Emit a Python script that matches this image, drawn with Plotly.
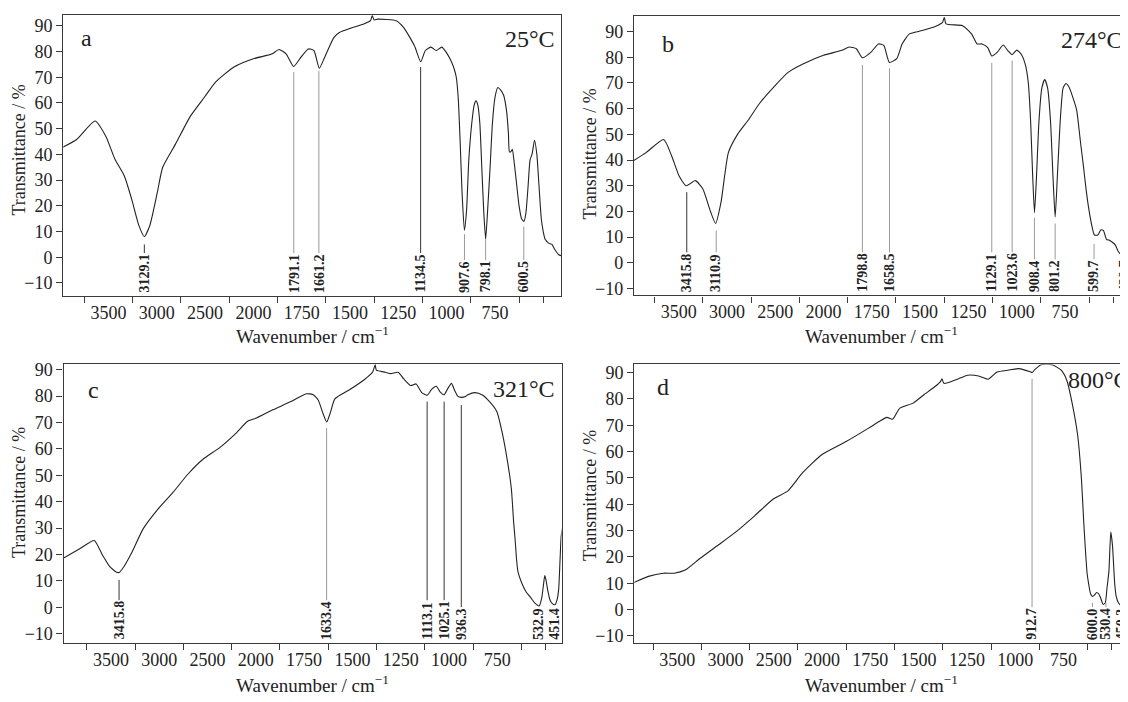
import numpy as np
import plotly.graph_objects as go

# ---------------- data ----------------
x_label_vals = [3500, 3000, 2500, 2000, 1750, 1500, 1250, 1000, 750]
x_minor_vals = [3750, 3250, 2750, 2250, 1875, 1625, 1375, 1125, 875, 625, 500]
y_tick_vals = [90, 80, 70, 60, 50, 40, 30, 20, 10, 0, -10]

a_wn = [4000, 3830, 3640, 3527, 3432, 3337, 3261, 3186, 3129, 3072, 2996, 2939, 2807, 2655,
        2504, 2390, 2201, 2000, 1905, 1867, 1830, 1792, 1754, 1716, 1687, 1659, 1631, 1583,
        1555, 1500, 1432, 1394, 1385, 1375, 1356, 1261, 1223, 1167, 1134, 1110, 1081, 1053,
        1025, 996, 975, 960, 950, 940, 930, 920, 908, 897, 885, 870, 858, 848, 838, 828, 818,
        808, 798, 788, 775, 763, 750, 735, 720, 705, 690, 680, 675, 668, 660, 652, 640, 625,
        612, 600, 590, 578, 568, 558, 545, 533, 522, 510, 500, 490, 472, 455, 440, 420, 400]
a_tr = [42.3, 45.8, 53.0, 47.0, 38.0, 31.7, 22.7, 12.4, 8.0, 12.4, 25.0, 35.0, 44.0, 54.7,
        62.4, 68.2, 74.0, 77.2, 79.0, 80.8, 79.0, 74.2, 77.8, 81.0, 80.4, 73.5, 77.8, 85.5,
        87.4, 89.0, 90.6, 92.0, 94.0, 92.3, 92.6, 92.0, 89.4, 82.3, 76.0, 80.4, 81.7, 80.4,
        81.7, 79.0, 76.0, 73.0, 70.0, 62.0, 45.0, 25.0, 10.5, 18.0, 38.0, 52.0, 59.0, 60.8, 59.0,
        52.0, 35.0, 18.0, 7.0, 18.0, 35.0, 52.0, 62.0, 66.0, 65.0, 63.0, 57.0, 48.0, 41.0,
        41.0, 42.0, 38.0, 30.0, 20.0, 15.0, 14.0, 17.0, 28.0, 38.0, 40.0, 45.5, 40.0, 28.0,
        15.0, 10.0, 7.0, 5.5, 5.0, 3.0, 1.0, 0.5]

b_wn = [4000, 3837, 3655, 3572, 3496, 3420, 3326, 3250, 3174, 3117, 3061, 2985, 2890, 2776,
        2663, 2511, 2360, 2208, 2000, 1905, 1867, 1830, 1799, 1754, 1716, 1688, 1659, 1621,
        1593, 1555, 1489, 1413, 1384, 1375, 1366, 1280, 1233, 1205, 1180, 1150, 1129, 1100,
        1070, 1045, 1024, 1000, 975, 955, 940, 928, 918, 908, 898, 885, 870, 855, 840, 825,
        812, 801, 790, 775, 760, 745, 730, 710, 690, 670, 655, 640, 627, 610, 598, 580, 565,
        551, 535, 523, 505, 490, 475, 455, 438, 425, 413]
b_tr = [39.0, 42.9, 48.0, 41.6, 33.9, 30.0, 32.0, 28.8, 20.4, 15.3, 23.6, 42.9, 50.0, 55.7,
        62.0, 68.6, 74.3, 77.5, 80.8, 82.7, 84.0, 83.3, 79.8, 82.0, 85.2, 84.6, 78.0, 79.5,
        85.2, 89.1, 90.4, 92.3, 93.6, 95.5, 93.0, 92.3, 89.0, 85.2, 85.2, 83.8, 80.5, 82.0,
        84.8, 82.5, 81.0, 82.8, 81.0, 77.0, 70.0, 55.0, 35.0, 19.5, 33.0, 55.0, 68.0, 71.3,
        68.0, 55.0, 33.0, 17.8, 33.0, 55.0, 68.0, 69.8, 68.5, 64.5, 59.5, 47.0, 37.8, 28.0,
        21.0, 14.0, 10.8, 10.8, 12.8, 12.5, 9.0, 8.9, 8.0, 7.0, 4.5, 3.0, 2.5, 3.5, 4.4]

c_wn = [4000, 3819, 3673, 3588, 3512, 3442, 3415, 3377, 3281, 3165, 3011, 2858, 2704, 2550,
        2377, 2204, 2088, 2000, 1912, 1818, 1742, 1705, 1677, 1655, 1633, 1615, 1590, 1517,
        1442, 1395, 1382, 1376, 1329, 1301, 1263, 1235, 1198, 1170, 1141, 1113, 1090, 1066,
        1045, 1025, 1005, 987, 970, 955, 936, 915, 902, 865, 827, 790, 752, 724, 696, 677,
        665, 658, 650, 643, 625, 602, 575, 555, 533, 520, 510, 504, 498, 489, 478, 466, 451,
        440, 432, 425, 419, 410, 400]
c_tr = [18.5, 22.3, 25.3, 19.8, 15.4, 13.3, 13.2, 14.8, 21.0, 29.8, 37.3, 43.5, 50.4, 56.0,
        60.4, 66.0, 70.4, 71.6, 74.8, 77.9, 80.8, 80.6, 78.5, 74.0, 70.2, 73.5, 79.0, 82.3,
        86.0, 89.1, 91.8, 89.8, 89.0, 88.5, 89.0, 86.6, 84.0, 84.6, 81.3, 80.3, 82.5, 83.7,
        81.5, 80.5, 83.0, 84.8, 82.0, 80.0, 79.5, 79.8, 80.5, 81.3, 80.4, 77.9, 74.1, 66.0,
        54.8, 44.8, 32.0, 26.0, 18.0, 13.5, 9.5, 6.0, 3.5, 1.6, 0.5, 3.5, 9.0, 12.0, 10.5,
        6.5, 3.0, 1.5, 1.0, 3.0, 7.0, 18.0, 27.0, 30.5, 32.0]

d_wn = [4000, 3797, 3645, 3531, 3417, 3265, 3075, 2885, 2695, 2505, 2353, 2201, 2000, 1873,
        1759, 1702, 1664, 1635, 1597, 1531, 1474, 1417, 1388, 1379, 1369, 1303, 1246, 1189,
        1141, 1094, 1037, 980, 923, 912, 900, 866, 809, 762, 733, 705, 676, 657, 645, 638,
        628, 619, 610, 600, 590, 578, 568, 558, 545, 534, 525, 515, 505, 496, 485, 477, 465,
        450, 440, 433, 427, 423, 410]
d_tr = [9.4, 12.6, 13.8, 13.8, 15.0, 19.4, 24.5, 29.7, 35.7, 42.0, 45.1, 52.0, 58.9, 63.9,
        68.9, 71.5, 73.0, 72.3, 76.5, 78.3, 81.5, 84.6, 86.5, 87.6, 85.9, 87.4, 89.0, 88.7,
        87.5, 90.2, 90.9, 91.5, 90.3, 90.0, 91.0, 93.0, 93.0, 90.9, 87.1, 78.3, 65.8, 49.5,
        33.0, 24.5, 14.0, 9.4, 6.0, 5.0, 5.5, 6.5, 6.0, 4.5, 2.0, 2.5, 8.0, 14.4, 29.5, 24.0,
        10.0, 5.0, 2.5, 1.5, 3.0, 10.0, 30.0, 47.0, 60.0]

# peak labels (wavenumber text) and the transmittance where each guide line ends
a_peaks = ["3129.1", "1791.1", "1661.2", "1134.5", "907.6", "798.1", "600.5"]
a_tops = [5.0, 72.0, 72.5, 74.0, 9.0, 7.0, 12.0]
b_peaks = ["3415.8", "3110.9", "1798.8", "1658.5", "1129.1", "1023.6", "908.4", "801.2", "599.7", "439.7"]
b_tops = [27.5, 12.5, 77.0, 75.7, 77.8, 78.8, 17.5, 15.3, 7.4, None]
c_peaks = ["3415.8", "1633.4", "1113.1", "1025.1", "936.3", "532.9", "451.4"]
c_tops = [10.4, 67.9, 77.9, 77.9, 76.6, None, None]
d_peaks = ["912.7", "600.0", "530.4", "450.3"]
d_tops = [87.7, 2.6, 2.6, 2.6]

panel_letters = ["a", "b", "c", "d"]
panel_temps = ["25°C", "274°C", "321°C", "800°C"]

# ---------------- style ----------------
PAGE_W, PAGE_H = 1128, 702
OFF = 8                      # default body margin of the html page
W, H = PAGE_W - OFF, PAGE_H - OFF
FONT = "Liberation Serif, Times New Roman, serif"
INK = "#222222"
AXC = "#3a3a3a"
DARK_LINES = {("a", "1134.5"), ("a", "3129.1"), ("b", "3415.8"), ("c", "3415.8"),
              ("c", "1113.1"), ("c", "1025.1"), ("c", "936.3")}


def px(x):
    return (x - OFF) / W


def py(y):
    return 1 - (y - OFF) / H


def to_u(w):
    """Split FTIR wavenumber scale: 4000-2000 compressed 2x, 2000-400 expanded."""
    w = np.asarray(w, dtype=float)
    return np.where(w >= 2000, (4000 - w) / 2.0, 1000 + (2000 - w))


panels = [
    dict(letter="a", wn=a_wn, tr=a_tr, peaks=a_peaks, tops=a_tops,
         box=(63.3, 561.0, 11.3, 295.0), yr=(-15.1, 94.1), ur=(16, 2592), right=True,
         letter_xy=(86.5, 34), temp_xy=(557, 35), temp_anchor="right",
         ytitle_xy=(19, 148), xtitle_xy=(312, 334)),
    dict(letter="b", wn=b_wn, tr=b_tr, peaks=b_peaks, tops=b_tops,
         box=(634.0, 1128.0, 11.7, 294.3), yr=(-12.7, 96.2), ur=(19, 2576), right=False,
         letter_xy=(668, 40), temp_xy=(1125, 36), temp_anchor="right",
         ytitle_xy=(590, 152), xtitle_xy=(881, 334)),
    dict(letter="c", wn=c_wn, tr=c_tr, peaks=c_peaks, tops=c_tops,
         box=(63.6, 561.6, 363.3, 645.7), yr=(-13.6, 92.25), ur=(5, 2583), right=True,
         letter_xy=(93.5, 390), temp_xy=(557, 389), temp_anchor="right",
         ytitle_xy=(19, 494), xtitle_xy=(312, 687)),
    dict(letter="d", wn=d_wn, tr=d_tr, peaks=d_peaks, tops=d_tops,
         box=(634.3, 1128.0, 364.0, 645.7), yr=(-12.8, 93.1), ur=(28, 2584), right=False,
         letter_xy=(662.5, 387), temp_xy=(1066, 380), temp_anchor="left",
         ytitle_xy=(590, 497), xtitle_xy=(881, 687)),
]

fig = go.Figure()
layout = dict(width=W, height=H, margin=dict(l=0, r=0, t=0, b=0),
              paper_bgcolor="white", plot_bgcolor="white", showlegend=False,
              font=dict(family=FONT, color=INK))
annotations = []
shapes = []

for i, p in enumerate(panels):
    n = i + 1
    xa = "xaxis" if n == 1 else f"xaxis{n}"
    ya = "yaxis" if n == 1 else f"yaxis{n}"
    xr = "x" if n == 1 else f"x{n}"
    yr_ = "y" if n == 1 else f"y{n}"
    x0, x1, y0, y1 = p["box"]
    dom_x = [max(px(x0), 0.0), min(px(x1), 1.0)]
    dom_y = [max(py(y1), 0.0), min(py(y0), 1.0)]

    fig.add_trace(go.Scatter(x=to_u(p["wn"]), y=p["tr"], mode="lines",
                             line=dict(color=INK, width=1.1, shape="spline", smoothing=0.55),
                             xaxis=xr, yaxis=yr_, hoverinfo="skip"))

    layout[xa] = dict(domain=dom_x, anchor=yr_, range=list(p["ur"]),
                      tickmode="array", tickvals=to_u(x_label_vals).tolist(),
                      ticktext=[str(v) for v in x_label_vals],
                      ticks="outside", ticklen=0, tickcolor=AXC, ticklabelstandoff=0,
                      minor=dict(tickmode="array", tickvals=to_u(x_minor_vals).tolist(),
                                 ticks="outside", ticklen=6, tickwidth=1.2, tickcolor=AXC,
                                 showgrid=False),
                      tickfont=dict(family=FONT, size=18, color=INK),
                      showline=True, linecolor=AXC, linewidth=1.4, mirror=True,
                      showgrid=False, zeroline=False)
    layout[ya] = dict(domain=dom_y, anchor=xr, range=list(p["yr"]),
                      tickmode="array", tickvals=y_tick_vals,
                      ticktext=[("\u221210" if v < 0 else str(v)) for v in y_tick_vals],
                      ticks="outside", ticklen=6, tickwidth=1.2, tickcolor=AXC,
                      tickfont=dict(family=FONT, size=18, color=INK),
                      showline=True, linecolor=AXC, linewidth=1.4, mirror=p["right"],
                      showgrid=False, zeroline=False)

    # peak labels + guide lines
    ppu = (y1 - y0) / (p["yr"][1] - p["yr"][0])
    for lab, top in zip(p["peaks"], p["tops"]):
        u = float(to_u(float(lab)))
        annotations.append(dict(x=u, y=p["yr"][0], xref=xr, yref=yr_, text=f"<b>{lab}</b>",
                                textangle=-90, showarrow=False, xanchor="center",
                                yanchor="bottom", yshift=1.5,
                                font=dict(family=FONT, size=14, color=INK)))
        if top is None:
            continue
        txt_px = sum(3.5 if ch == "." else 7.0 for ch in lab) + 5
        ybot = p["yr"][0] + txt_px / ppu
        if top <= ybot:
            top = ybot + 4 / ppu
        dark = (p["letter"], lab) in DARK_LINES
        shapes.append(dict(type="line", xref=xr, yref=yr_, x0=u, x1=u, y0=ybot, y1=top,
                           line=dict(color="#333333" if dark else "#9a9a9a", width=1)))

    # panel letter and temperature
    lx, ly = p["letter_xy"]
    annotations.append(dict(x=px(lx), y=py(ly), xref="paper", yref="paper",
                            text=p["letter"], showarrow=False, xanchor="center",
                            yanchor="middle", font=dict(family=FONT, size=24, color=INK)))
    tx, ty = p["temp_xy"]
    annotations.append(dict(x=px(tx), y=py(ty), xref="paper", yref="paper",
                            text=panel_temps[i], showarrow=False, xanchor=p["temp_anchor"],
                            yanchor="middle", font=dict(family=FONT, size=24, color=INK)))
    # axis titles
    yx, yy = p["ytitle_xy"]
    annotations.append(dict(x=px(yx), y=py(yy), xref="paper", yref="paper",
                            text="Transmittance / %", textangle=-90, showarrow=False,
                            xanchor="center", yanchor="middle",
                            font=dict(family=FONT, size=18, color=INK)))
    wx, wy = p["xtitle_xy"]
    annotations.append(dict(x=px(wx), y=py(wy), xref="paper", yref="paper",
                            text="Wavenumber / cm<sup>\u22121</sup>", showarrow=False,
                            xanchor="center", yanchor="middle",
                            font=dict(family=FONT, size=19, color=INK)))

layout["annotations"] = annotations
layout["shapes"] = shapes
fig.update_layout(**layout)
fig.write_html("out.html")
